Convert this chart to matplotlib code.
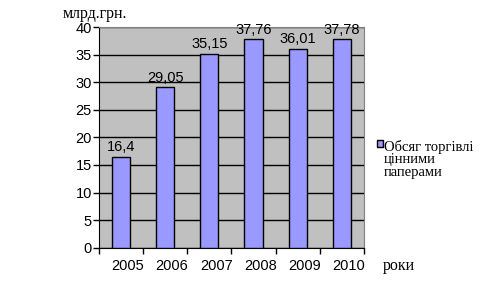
import matplotlib
matplotlib.use("Agg")
from matplotlib import pyplot as plt
from matplotlib import transforms

years = ['2005', '2006', '2007', '2008', '2009', '2010']
volume = [16.4, 29.05, 35.15, 37.76, 36.01, 37.78]
volume_labels = ['16,4', '29,05', '35,15', '37,76', '36,01', '37,78']
y_ticks = [0, 5, 10, 15, 20, 25, 30, 35, 40]

serif = 'Liberation Serif'
sans = 'Liberation Sans'

fig = plt.figure(figsize=(4.83, 2.95), dpi=100)
ax = fig.add_axes([0.2044, 0.1603, 0.5495, 0.748])
ax.set_facecolor('#c0c0c0')

x = list(range(len(years)))
bars = ax.bar(x, volume, width=0.41, color='#9999ff', edgecolor='black',
              linewidth=1, zorder=3, label='Обсяг торгівлі\nцінними\nпаперами')

for xi, v, lab in zip(x, volume, volume_labels):
    ax.annotate(lab, (xi, v), xytext=(0, 2), textcoords='offset points',
                ha='center', va='bottom', fontsize=10.5, family=sans,
                zorder=4, annotation_clip=False)

ax.set_xlim(-0.5, len(years) - 0.5)
ax.set_ylim(0, 40)
ax.set_yticks(y_ticks)
ax.set_yticklabels([str(t) for t in y_ticks], family=sans, fontsize=10.5)
ax.yaxis.grid(True, color='black', linewidth=1, zorder=1)
ax.set_axisbelow(True)

# category boundary ticks, labels placed a bit right of centre
ax.set_xticks([i - 0.5 for i in range(len(years) + 1)], minor=False)
ax.set_xticklabels([])
ax.set_xticks(x, minor=True)
ax.set_xticklabels(years, minor=True, family=sans, fontsize=10.5)
ax.tick_params(axis='x', which='major', direction='out', length=4, width=1)
ax.tick_params(axis='x', which='minor', length=0, pad=8)
ax.tick_params(axis='y', direction='out', length=4, width=1, pad=1)
shift = transforms.ScaledTranslation(7 / 100, 0, fig.dpi_scale_trans)
for lbl in ax.xaxis.get_minorticklabels():
    lbl.set_transform(lbl.get_transform() + shift)

for side in ['top', 'right']:
    ax.spines[side].set_color('#808080')
for side in ['left', 'bottom']:
    ax.spines[side].set_color('black')

fig.text(63 / 483, 1 - 14 / 295, 'млрд.грн.', family=serif, fontsize=11.5,
         ha='left', va='center')
fig.text(383 / 483, 1 - 266 / 295, 'роки', family=serif, fontsize=11.5,
         ha='left', va='center')

leg = ax.legend(loc='upper left', bbox_to_anchor=(1.05, 0.49), frameon=False,
                prop={'family': serif, 'size': 10.5}, handlelength=0.4,
                handleheight=0.4, handletextpad=0.05, borderaxespad=0,
                borderpad=0)
for t in leg.get_texts():
    t.set_linespacing(0.95)
# put the legend square next to the first line of the label
handle = leg.legend_handles[0]
handle.set_y(handle.get_y() + 11)

fig.savefig('out.png', dpi=100)
